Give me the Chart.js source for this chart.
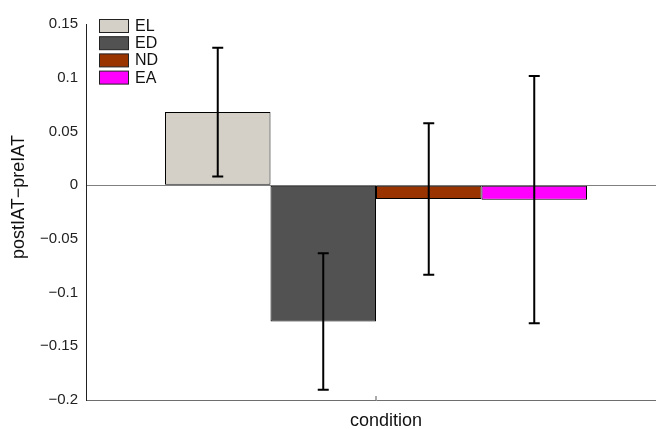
<!DOCTYPE html>
<html>
<head>
<meta charset="utf-8">
<script src="https://cdn.jsdelivr.net/npm/chart.js@4"></script>
<style>
  html, body { margin: 0; padding: 0; background: #fff; overflow: hidden; }
  canvas { display: block; }
</style>
</head>
<body>
<canvas id="barChart" width="666" height="429"></canvas>
<script>
const categories = ['condition'];
const seriesNames = ['EL', 'ED', 'ND', 'EA'];
const means = [0.068, -0.127, -0.013, -0.0135];
const errors = [0.060, 0.0635, 0.0705, 0.115];
const colors = ['#d4d0c8', '#525252', '#993300', '#ff00ff'];
const yTicks = [-0.2, -0.15, -0.1, -0.05, 0, 0.05, 0.1, 0.15];

const FONT = '"Liberation Sans", Arial, sans-serif';

function fmt(v) {
    const s = (Math.round(v * 100) / 100).toString();
    return s.replace('-', '\u2212');
}

// error bars, legend and axis labels drawn on top
const extras = {
    id: 'extras',
    afterDatasetsDraw(chart) {
        const ctx = chart.ctx;
        const y = chart.scales.y;
        ctx.save();
        ctx.strokeStyle = '#000';
        ctx.lineWidth = 2;
        chart.data.datasets.forEach((ds, i) => {
            const bar = chart.getDatasetMeta(i).data[0];
            const top = y.getPixelForValue(means[i] + errors[i]);
            const bot = y.getPixelForValue(means[i] - errors[i]);
            ctx.beginPath();
            ctx.moveTo(bar.x, top);
            ctx.lineTo(bar.x, bot);
            ctx.moveTo(bar.x - 5.5, top);
            ctx.lineTo(bar.x + 5.5, top);
            ctx.moveTo(bar.x - 5.5, bot);
            ctx.lineTo(bar.x + 5.5, bot);
            ctx.stroke();
        });
        ctx.restore();
    },
    afterDraw(chart) {
        const ctx = chart.ctx;
        const area = chart.chartArea;
        ctx.save();

        // center tick on x axis
        const xc = (chart.scales.x.left + chart.scales.x.right) / 2;
        ctx.strokeStyle = '#555';
        ctx.lineWidth = 1;
        ctx.beginPath();
        ctx.moveTo(xc, area.bottom);
        ctx.lineTo(xc, area.bottom - 4);
        ctx.stroke();

        // legend
        ctx.font = '16px ' + FONT;
        ctx.textBaseline = 'middle';
        ctx.textAlign = 'left';
        chart.data.datasets.forEach((ds, i) => {
            const by = 19.5 + i * 17.2;
            ctx.fillStyle = ds.backgroundColor;
            ctx.fillRect(99.5, by, 29, 13);
            ctx.strokeStyle = '#222';
            ctx.strokeRect(99.5, by, 29, 13);
            ctx.fillStyle = '#111';
            ctx.fillText(ds.label, 135, by + 7);
        });

        // axis titles
        ctx.fillStyle = '#111';
        ctx.font = '18px ' + FONT;
        ctx.textAlign = 'center';
        ctx.fillText('condition', 386, 421);
        ctx.translate(19, 197);
        ctx.rotate(-Math.PI / 2);
        ctx.fillText('postIAT\u2212preIAT', 0, 0);
        ctx.restore();
    }
};

const chart = new Chart(document.getElementById('barChart').getContext('2d'), {
    type: 'bar',
    data: {
        labels: categories,
        datasets: seriesNames.map((name, i) => ({
            label: name,
            data: [means[i]],
            backgroundColor: colors[i],
            borderColor: '#000',
            borderWidth: 1,
            borderSkipped: false,
            barPercentage: 1.0,
            categoryPercentage: 0.7276
        }))
    },
    options: {
        responsive: false,
        animation: false,
        layout: { padding: { left: 0, top: 24, right: 0, bottom: 29 } },
        plugins: {
            legend: { display: false },
            tooltip: { enabled: false }
        },
        scales: {
            x: {
                ticks: { display: false },
                grid: { display: false, drawTicks: false },
                border: { display: true, color: '#6e6e6e', width: 1 }
            },
            y: {
                min: -0.2,
                max: 0.15,
                afterBuildTicks(scale) {
                    scale.ticks = yTicks.map(v => ({ value: v }));
                },
                afterFit(scale) {
                    scale.width = 86;
                },
                ticks: {
                    padding: 8,
                    color: '#222',
                    font: { family: FONT, size: 15 },
                    callback: v => fmt(v)
                },
                grid: {
                    drawTicks: false,
                    lineWidth: 1,
                    color: c => (c.tick && Math.abs(c.tick.value) < 1e-9) ? '#808080' : 'rgba(0,0,0,0)'
                },
                border: { display: true, color: '#222', width: 1 }
            }
        }
    },
    plugins: [extras]
});
</script>
</body>
</html>
